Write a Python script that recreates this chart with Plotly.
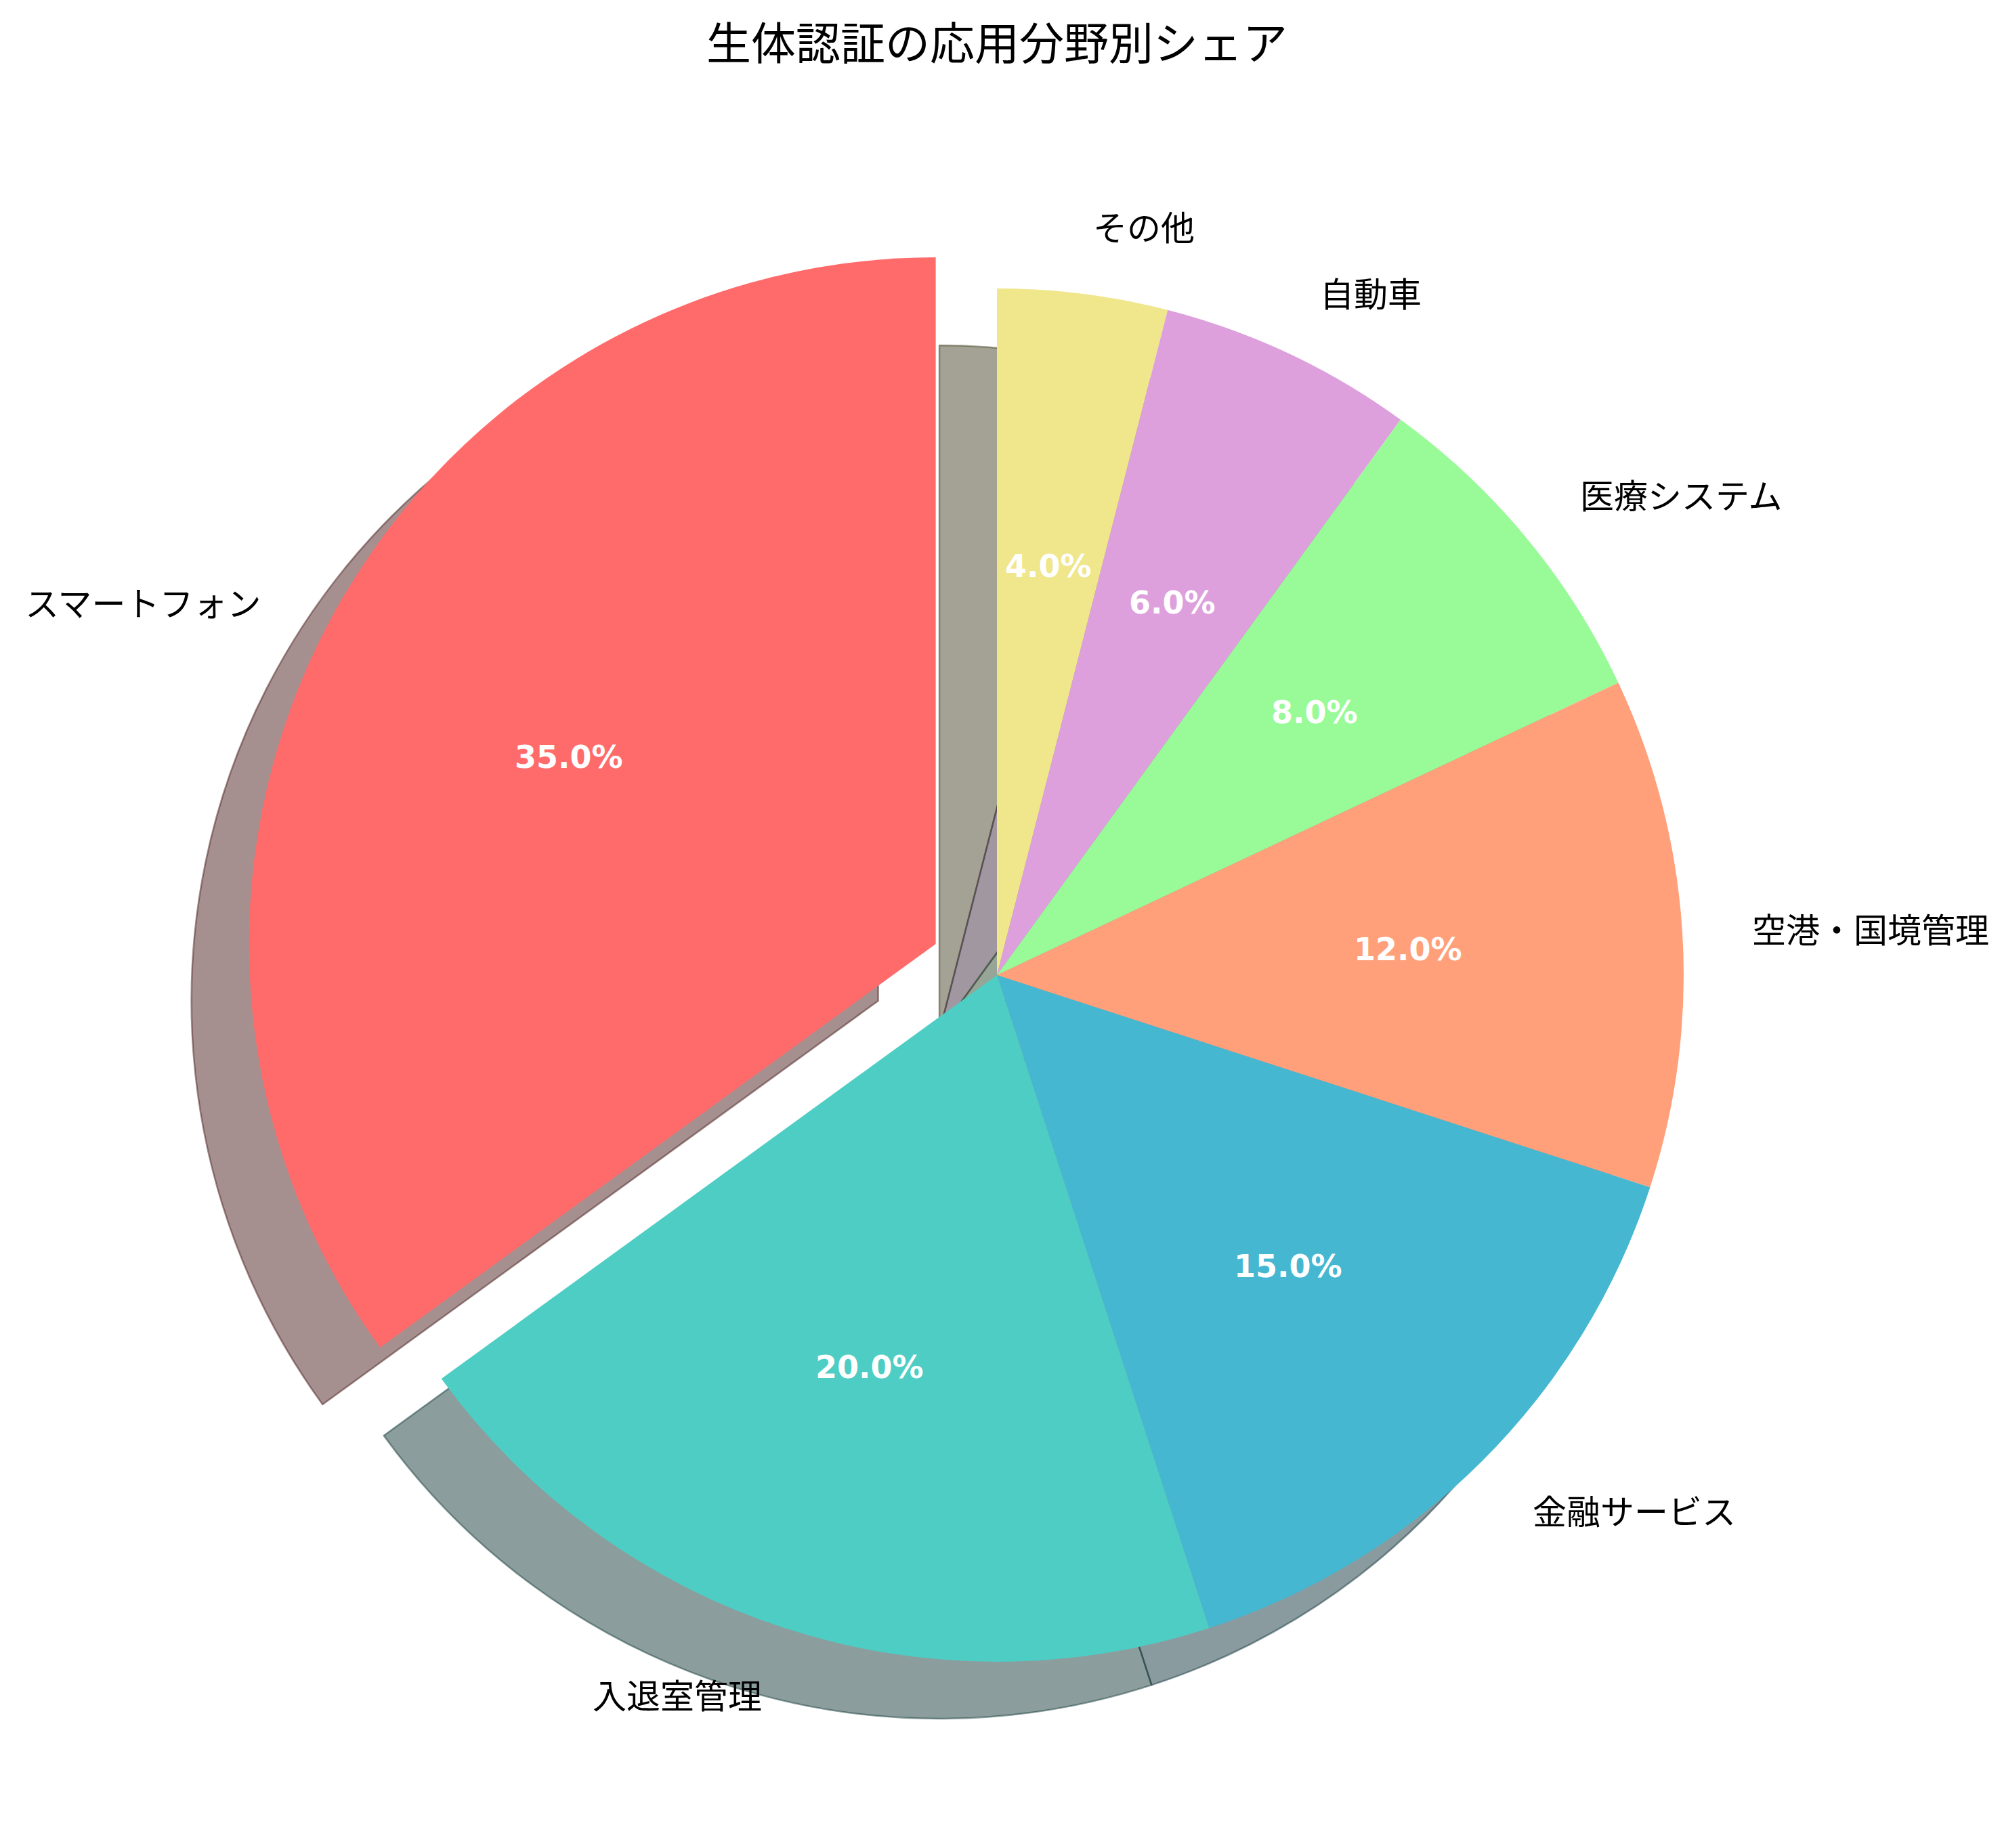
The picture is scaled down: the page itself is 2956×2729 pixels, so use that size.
import numpy as np
import plotly.graph_objects as go

# データ
labels = ["スマートフォン", "入退室管理", "金融サービス", "空港・国境管理", "医療システム", "自動車", "その他"]
shares = [35, 20, 15, 12, 8, 6, 4]
colors = ["#FF6B6B", "#4ECDC4", "#45B7D1", "#FFA07A", "#98FB98", "#DDA0DD", "#F0E68C"]
pulls = [0.1, 0, 0, 0, 0, 0, 0]
title = "生体認証の応用分野別シェア"

# レイアウト (px)
W, H = 2956, 2729
CX, CY = 1464, 1432          # 円の中心
R = 1014                     # 半径
SHADOW_DX, SHADOW_DY = -85, 84
LABEL_DIST, PCT_DIST = 1.1, 0.6


def shade(hex_color):
    r, g, b = (int(hex_color[i:i + 2], 16) for i in (1, 3, 5))
    return f"rgba({r * 0.3:.0f},{g * 0.3:.0f},{b * 0.3:.0f},0.5)"


def domain(cx, cy):
    half = R * (1 + max(pulls))
    return dict(x=[(cx - half) / W, (cx + half) / W],
                y=[1 - (cy + half) / H, 1 - (cy - half) / H])


shadow_colors = [shade(c) for c in colors]

# 12時から反時計回り = 逆順で時計回り
rev = slice(None, None, -1)

fig = go.Figure()

# 影
fig.add_trace(go.Pie(
    labels=labels[rev], values=shares[rev], pull=pulls[rev], sort=False,
    direction="clockwise", rotation=0,
    domain=domain(CX + SHADOW_DX, CY + SHADOW_DY),
    marker=dict(colors=shadow_colors[rev],
                line=dict(color=shadow_colors[rev], width=2.5)),
    textinfo="none", hoverinfo="skip", showlegend=False,
))

# 本体
fig.add_trace(go.Pie(
    labels=labels[rev], values=shares[rev], pull=pulls[rev], sort=False,
    direction="clockwise", rotation=0,
    domain=domain(CX, CY),
    marker=dict(colors=colors[rev], line=dict(width=0)),
    textinfo="none", showlegend=False,
))

# ラベルとパーセント
vals = np.array(shares, dtype=float)
frac = vals / vals.sum()
ends = 90 + 360 * np.cumsum(frac)
mids = np.deg2rad(ends - 180 * frac)

annotations = []
for lab, f, m, p in zip(labels, frac, mids, pulls):
    ux, uy = np.cos(m), np.sin(m)
    ox, oy = CX + p * R * ux, CY - p * R * uy
    lx, ly = ox + LABEL_DIST * R * ux, oy - LABEL_DIST * R * uy
    px_, py_ = ox + PCT_DIST * R * ux, oy - PCT_DIST * R * uy
    annotations.append(dict(
        x=lx / W, y=1 - ly / H, xref="paper", yref="paper",
        text=lab, showarrow=False,
        xanchor="left" if ux > 0 else "right", yanchor="middle",
        font=dict(family="Noto Sans CJK JP", size=50, color="black"),
    ))
    annotations.append(dict(
        x=px_ / W, y=1 - py_ / H, xref="paper", yref="paper",
        text=f"<b>{f * 100:.1f}%</b>", showarrow=False,
        xanchor="center", yanchor="middle",
        font=dict(family="DejaVu Sans", size=46, color="white"),
    ))

fig.update_layout(
    width=W, height=H,
    margin=dict(l=0, r=0, t=0, b=0),
    paper_bgcolor="white", plot_bgcolor="white",
    showlegend=False,
    title=dict(text=title, x=CX / W, xanchor="center",
               y=1 - 57 / H, yanchor="middle", yref="container",
               font=dict(family="Noto Sans CJK JP", size=66, color="black")),
    annotations=annotations,
)

fig.write_html("out.html")
